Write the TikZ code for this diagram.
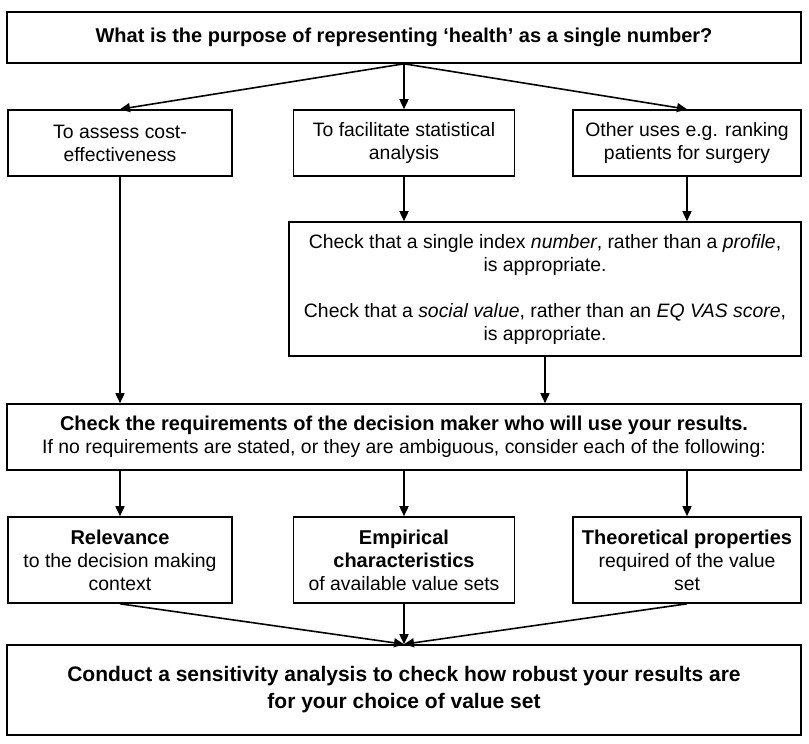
\documentclass[tikz,border=0pt]{standalone}
\usepackage{fontspec}
\setmainfont{Liberation Sans}
\usetikzlibrary{arrows.meta}

\newcommand{\boldtext}[1]{{\fontsize{10}{11.5}\selectfont\bfseries #1}}

\begin{document}
\begin{tikzpicture}[
    x=0.5pt, y=-0.5pt,
    every node/.style={font=\fontsize{9.7}{11.5}\selectfont},
    widebox/.style={rectangle, draw, line width=0.8pt, minimum width=397pt, align=center, inner sep=0pt},
    smallbox/.style={rectangle, draw, line width=0.8pt, minimum width=112pt, minimum height=33pt, align=center, inner sep=0pt},
    lowbox/.style={smallbox, minimum height=43pt},
    arrow/.style={-{Triangle[length=5pt,width=4.5pt]}, line width=0.8pt}
]
\useasboundingbox (0,0) rectangle (809,744);

\node[widebox, minimum height=25.5pt] (purpose) at (404,37.5) {\boldtext{What is the purpose of representing ‘health’ as a single number?}};
\node[smallbox] (cost) at (120,143) {To assess cost-\\effectiveness};
\node[smallbox, minimum width=110.5pt] (stats) at (404,143) {To facilitate statistical\\analysis};
\node[smallbox, minimum width=114pt] (other) at (687,143) {Other uses e.g. ranking\\patients for surgery};
\node[rectangle, draw, line width=0.8pt, minimum width=256pt, minimum height=67pt, align=center, inner sep=0pt] (index) at (545,289)
    {Check that a single index \textit{number}, rather than a \textit{profile},\\is appropriate.\\[11.5pt]
     Check that a \textit{social value}, rather than an \textit{EQ VAS score},\\is appropriate.};
\node[widebox, minimum height=33pt] (needs) at (404,437) {\boldtext{Check the requirements of the decision maker who will use your results.}\\If no requirements are stated, or they are ambiguous, consider each of the following:};
\node[lowbox] (relevance) at (120,560) {\boldtext{Relevance}\\to the decision making\\context};
\node[lowbox, minimum width=110.5pt] (empirical) at (404,560) {\boldtext{Empirical}\\\boldtext{characteristics}\\of available value sets};
\node[lowbox, minimum width=114pt] (theory) at (687,560) {\boldtext{Theoretical properties}\\required of the value\\set};
\node[widebox, minimum height=45pt, font=\fontsize{10.5}{13.5}\selectfont\bfseries] (sensitivity) at (404,690) {Conduct a sensitivity analysis to check how robust your results are\\for your choice of value set};

\draw[arrow] (purpose.south) -- (cost.north);
\draw[arrow] (purpose.south) -- (stats.north);
\draw[arrow] (purpose.south) -- (other.north);
\draw[arrow] (stats.south) -- (stats.south |- index.north);
\draw[arrow] (other.south) -- (other.south |- index.north);
\draw[arrow] (cost.south) -- (cost.south |- needs.north);
\draw[arrow] (index.south) -- (index.south |- needs.north);
\draw[arrow] (needs.south -| relevance.north) -- (relevance.north);
\draw[arrow] (needs.south) -- (empirical.north);
\draw[arrow] (needs.south -| theory.north) -- (theory.north);
\draw[arrow] (relevance.south) -- (sensitivity.north);
\draw[arrow] (empirical.south) -- (sensitivity.north);
\draw[arrow] (theory.south) -- (sensitivity.north);

\end{tikzpicture}
\end{document}
